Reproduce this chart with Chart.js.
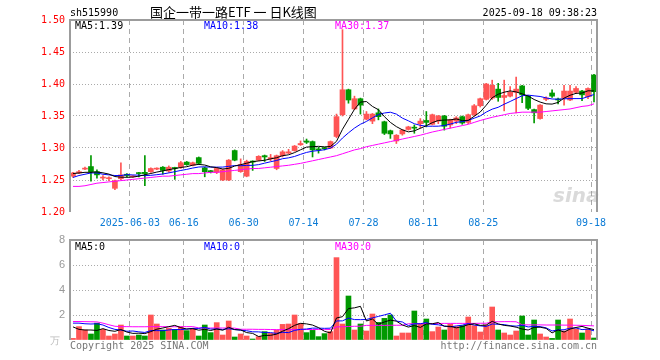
<!DOCTYPE html>
<html>
<head>
<meta charset="utf-8">
<script src="https://cdn.jsdelivr.net/npm/chart.js@4.4.1/dist/chart.umd.min.js"></script>
<style>
  body { margin: 0; background: #fff; }
  #wrap { position: relative; width: 660px; height: 360px; overflow: hidden; font-family: "DejaVu Sans Mono", monospace; font-size: 10px; }
  canvas { position: absolute; left: 0; top: 0; }
  .t { position: absolute; white-space: pre; line-height: 12px; }
</style>
</head>
<body>
<div id="wrap">
  <canvas id="kline" width="660" height="360"></canvas>
  <canvas id="vol" width="660" height="360"></canvas>

  <div class="t" style="left:70px;top:7px;color:#000;">sh515990</div>
  <div class="t" style="left:150px;top:4px;font-family:'Noto Sans CJK SC';font-size:13px;line-height:16px;color:#000;">国企一带一路ETF 一 日K线图</div>
  <div class="t" style="right:63px;top:7px;color:#000;">2025-09-18 09:38:23</div>

  <div class="t" style="left:75px;top:20px;color:#000;">MA5:1.39</div>
  <div class="t" style="left:204px;top:20px;color:#0000ff;">MA10:1.38</div>
  <div class="t" style="left:335px;top:20px;color:#ff00ff;">MA30:1.37</div>

  <div class="t" style="left:553px;top:184px;font-family:'DejaVu Sans';font-weight:bold;font-style:italic;font-size:20px;line-height:22px;color:rgba(150,150,150,0.35);">sina</div>

  <div class="t" style="left:75px;top:241px;color:#000;">MA5:0</div>
  <div class="t" style="left:204px;top:241px;color:#0000ff;">MA10:0</div>
  <div class="t" style="left:335px;top:241px;color:#ff00ff;">MA30:0</div>

  <div class="t" style="left:50px;top:335px;color:#bbb;">万</div>
  <div class="t" style="left:70px;top:340px;color:#777;">Copyright 2025 SINA.COM</div>
  <div class="t" style="right:63px;top:340px;color:#777;">http://finance.sina.com.cn</div>
</div>

<script>
// trading days, 2025-05-19 .. 2025-09-18
const dates = [
  '2025-05-19','2025-05-20','2025-05-21','2025-05-22','2025-05-23','2025-05-26','2025-05-27','2025-05-28','2025-05-29','2025-05-30',
  '2025-06-03','2025-06-04','2025-06-05','2025-06-06','2025-06-09','2025-06-10','2025-06-11','2025-06-12','2025-06-13','2025-06-16',
  '2025-06-17','2025-06-18','2025-06-19','2025-06-20','2025-06-23','2025-06-24','2025-06-25','2025-06-26','2025-06-27','2025-06-30',
  '2025-07-01','2025-07-02','2025-07-03','2025-07-04','2025-07-07','2025-07-08','2025-07-09','2025-07-10','2025-07-11','2025-07-14',
  '2025-07-15','2025-07-16','2025-07-17','2025-07-18','2025-07-21','2025-07-22','2025-07-23','2025-07-24','2025-07-25','2025-07-28',
  '2025-07-29','2025-07-30','2025-07-31','2025-08-01','2025-08-04','2025-08-05','2025-08-06','2025-08-07','2025-08-08','2025-08-11',
  '2025-08-12','2025-08-13','2025-08-14','2025-08-15','2025-08-18','2025-08-19','2025-08-20','2025-08-21','2025-08-22','2025-08-25',
  '2025-08-26','2025-08-27','2025-08-28','2025-08-29','2025-09-01','2025-09-02','2025-09-03','2025-09-04','2025-09-05','2025-09-08',
  '2025-09-09','2025-09-10','2025-09-11','2025-09-12','2025-09-15','2025-09-16','2025-09-17','2025-09-18'
];

const tickDates = ['2025-06-03','2025-06-16','2025-06-30','2025-07-14','2025-07-28','2025-08-11','2025-08-25','2025-09-18'];
const tickLabels = ['2025-06-03','06-16','06-30','07-14','07-28','08-11','08-25','09-18'];

const open = [
  1.256,1.261,1.267,1.271,1.263,1.253,1.252,1.237,1.252,1.259,
  1.255,1.261,1.262,1.263,1.267,1.270,1.264,1.269,1.270,1.278,
  1.273,1.285,1.269,1.264,1.262,1.250,1.250,1.296,1.263,1.256,
  1.279,1.281,1.288,1.283,1.268,1.288,1.292,1.296,1.305,1.311,
  1.310,1.298,1.300,1.300,1.318,1.352,1.391,1.361,1.377,1.345,
  1.342,1.355,1.341,1.327,1.311,1.322,1.329,1.332,1.338,1.343,
  1.337,1.342,1.350,1.336,1.342,1.349,1.340,1.352,1.366,1.376,
  1.378,1.392,1.379,1.381,1.387,1.397,1.381,1.360,1.346,1.376,
  1.386,1.376,1.378,1.375,1.387,1.389,1.380,1.414
];
const high = [
  1.262,1.265,1.270,1.288,1.266,1.257,1.255,1.250,1.277,1.260,
  1.257,1.262,1.288,1.269,1.269,1.271,1.272,1.270,1.279,1.279,
  1.278,1.286,1.270,1.265,1.269,1.267,1.282,1.297,1.283,1.281,
  1.280,1.288,1.289,1.290,1.289,1.296,1.298,1.304,1.311,1.314,
  1.311,1.301,1.301,1.311,1.353,1.485,1.392,1.381,1.378,1.357,
  1.354,1.361,1.342,1.328,1.321,1.329,1.334,1.336,1.346,1.357,
  1.353,1.351,1.351,1.345,1.349,1.350,1.353,1.368,1.378,1.401,
  1.406,1.401,1.406,1.396,1.411,1.398,1.382,1.361,1.368,1.380,
  1.391,1.378,1.398,1.398,1.396,1.390,1.394,1.415
];
const low = [
  1.254,1.260,1.266,1.248,1.253,1.250,1.249,1.235,1.250,1.255,
  1.254,1.255,1.241,1.262,1.266,1.259,1.262,1.251,1.268,1.273,
  1.272,1.274,1.255,1.261,1.260,1.249,1.249,1.280,1.262,1.255,
  1.265,1.280,1.279,1.280,1.266,1.286,1.291,1.295,1.304,1.307,
  1.286,1.292,1.297,1.299,1.316,1.350,1.370,1.360,1.353,1.344,
  1.338,1.344,1.321,1.315,1.307,1.320,1.328,1.323,1.331,1.333,
  1.336,1.338,1.328,1.331,1.338,1.337,1.338,1.350,1.364,1.375,
  1.376,1.373,1.358,1.380,1.355,1.371,1.360,1.339,1.345,1.374,
  1.379,1.369,1.367,1.374,1.385,1.374,1.377,1.372
];
const close = [
  1.261,1.263,1.268,1.263,1.258,1.254,1.253,1.249,1.258,1.257,
  1.256,1.260,1.260,1.268,1.268,1.265,1.270,1.268,1.277,1.274,
  1.277,1.276,1.263,1.263,1.268,1.266,1.281,1.281,1.274,1.279,
  1.278,1.287,1.286,1.285,1.288,1.294,1.294,1.303,1.307,1.309,
  1.297,1.297,1.299,1.310,1.349,1.391,1.375,1.377,1.367,1.353,
  1.353,1.349,1.323,1.322,1.320,1.328,1.333,1.331,1.342,1.340,
  1.352,1.350,1.334,1.344,1.347,1.339,1.352,1.366,1.377,1.400,
  1.398,1.379,1.382,1.387,1.392,1.383,1.362,1.355,1.367,1.378,
  1.381,1.375,1.389,1.389,1.393,1.383,1.393,1.388
];

const ma5 = [
  1.260,1.261,1.262,1.262,1.2626,1.2612,1.2592,1.2554,1.2544,1.2542,
  1.2546,1.2560,1.2582,1.2602,1.2624,1.2642,1.2662,1.2678,1.2696,1.2708,
  1.2732,1.2744,1.2734,1.2706,1.2694,1.2672,1.2682,1.2718,1.2740,1.2762,
  1.2786,1.2798,1.2808,1.2830,1.2848,1.2880,1.2894,1.2928,1.2972,1.3014,
  1.3020,1.3026,1.3018,1.3024,1.3104,1.3292,1.3448,1.3604,1.3718,1.3726,
  1.3650,1.3598,1.3490,1.3400,1.3334,1.3284,1.3252,1.3268,1.3308,1.3348,
  1.3396,1.3430,1.3436,1.3440,1.3454,1.3428,1.3432,1.3496,1.3562,1.3668,
  1.3786,1.3840,1.3872,1.3892,1.3876,1.3846,1.3812,1.3758,1.3718,1.3690,
  1.3686,1.3712,1.3780,1.3824,1.3854,1.3858,1.3894,1.3892
];
const ma10 = [
  1.254,1.257,1.259,1.261,1.261,1.259,1.258,1.257,1.257,1.2584,
  1.2579,1.2576,1.2568,1.2573,1.2583,1.2594,1.2611,1.2630,1.2649,1.2666,
  1.2687,1.2703,1.2706,1.2701,1.2701,1.2702,1.2713,1.2726,1.2723,1.2728,
  1.2729,1.2740,1.2763,1.2785,1.2805,1.2833,1.2846,1.2868,1.2901,1.2931,
  1.2950,1.2960,1.2973,1.2998,1.3059,1.3156,1.3237,1.3311,1.3371,1.3415,
  1.3471,1.3523,1.3547,1.3559,1.3530,1.3467,1.3425,1.3379,1.3354,1.3341,
  1.3340,1.3341,1.3352,1.3374,1.3401,1.3412,1.3431,1.3466,1.3501,1.3561,
  1.3607,1.3636,1.3684,1.3727,1.3772,1.3816,1.3826,1.3815,1.3805,1.3783,
  1.3766,1.3762,1.3769,1.3771,1.3772,1.3772,1.3803,1.3836
];
const ma30 = [
  1.240,1.240,1.241,1.243,1.245,1.246,1.247,1.248,1.249,1.250,
  1.251,1.252,1.253,1.254,1.255,1.256,1.256,1.257,1.258,1.259,
  1.260,1.260,1.261,1.262,1.262,1.263,1.264,1.265,1.266,1.267,
  1.268,1.268,1.269,1.270,1.271,1.272,1.273,1.2745,1.276,1.278,
  1.280,1.282,1.284,1.286,1.288,1.291,1.294,1.297,1.299,1.302,
  1.304,1.306,1.308,1.310,1.312,1.314,1.316,1.318,1.320,1.3225,
  1.325,1.327,1.329,1.331,1.333,1.335,1.337,1.340,1.343,1.3455,
  1.348,1.350,1.352,1.354,1.355,1.356,1.356,1.356,1.356,1.357,
  1.358,1.359,1.360,1.361,1.363,1.365,1.366,1.369
];

// volume, 万手
const volume = [
  0.13,1.07,0.8,0.48,1.35,0.85,0.32,0.48,1.2,0.32,
  0.32,0.4,0.32,2.0,1.28,0.8,0.93,0.85,1.07,0.75,
  0.93,0.32,1.2,0.59,1.39,0.4,1.52,0.24,0.48,0.32,
  0.08,0.27,0.67,0.53,0.8,1.25,1.28,2.0,1.33,0.59,
  0.77,0.27,0.51,0.67,6.59,1.28,3.52,0.8,1.28,0.72,
  2.08,1.41,1.73,2.0,0.32,0.56,0.56,2.32,1.28,1.68,
  0.67,1.04,0.8,1.28,1.07,1.15,1.84,1.15,0.64,1.2,
  2.64,0.8,0.56,0.4,0.72,1.92,0.4,1.6,0.48,0.24,
  0.13,1.6,0.72,1.68,0.88,0.56,0.88,0.16
];
const volMa5 = [
  1.05,0.85,0.8,0.8,0.766,0.91,0.76,0.696,0.84,0.634,
  0.528,0.544,0.512,0.672,0.864,0.96,1.066,1.172,0.986,0.88,
  0.906,0.784,0.854,0.758,0.886,0.78,1.02,0.828,0.806,0.592,
  0.528,0.278,0.364,0.374,0.47,0.704,0.906,1.172,1.332,1.29,
  1.194,0.992,0.694,0.562,1.762,1.864,2.514,2.572,2.694,1.52,
  1.68,1.258,1.444,1.588,1.508,1.204,1.034,1.152,1.008,1.28,
  1.302,1.398,1.094,1.094,0.972,1.068,1.228,1.298,1.17,1.196,
  1.494,1.286,1.168,1.12,1.024,0.88,0.8,1.008,1.024,0.928,
  0.57,0.81,0.634,0.874,1.002,1.088,0.944,0.832
];
const volMa10 = [
  1.35,1.35,1.3,1.28,1.3,1.2,1.0,0.85,0.8,0.70,
  0.719,0.652,0.604,0.756,0.749,0.744,0.805,0.842,0.829,0.872,
  0.933,0.925,1.013,0.872,0.883,0.843,0.902,0.841,0.782,0.739,
  0.654,0.649,0.596,0.59,0.531,0.616,0.592,0.768,0.853,0.88,
  0.949,0.949,0.933,0.947,1.526,1.529,1.753,1.633,1.628,1.641,
  1.772,1.886,2.008,2.141,1.514,1.442,1.146,1.298,1.298,1.394,
  1.253,1.216,1.123,1.051,1.126,1.185,1.313,1.196,1.132,1.084,
  1.281,1.257,1.233,1.145,1.11,1.187,1.043,1.088,1.072,0.976,
  0.725,0.805,0.821,0.949,0.965,0.829,0.877,0.733
];
const volMa30 = [
  1.48,1.48,1.47,1.46,1.45,1.35,1.22,1.1,1.07,1.07,
  1.06,1.06,1.06,1.07,1.07,1.07,1.06,1.06,1.06,1.07,
  1.07,0.97,0.96,0.96,0.96,0.96,0.96,0.95,0.86,0.86,
  0.86,0.85,0.85,0.84,0.83,0.83,0.83,0.84,0.84,0.84,
  0.84,0.84,0.83,0.84,1.05,1.06,1.08,1.1,1.1,1.17,
  1.17,1.17,1.17,1.18,1.18,1.18,1.3,1.3,1.3,1.31,
  1.31,1.32,1.33,1.33,1.33,1.33,1.33,1.33,1.34,1.34,
  1.45,1.46,1.47,1.47,1.46,1.22,1.21,1.21,1.21,1.2,
  1.2,1.2,1.19,1.19,1.18,1.17,1.15,1.13
];

const upColor = '#ff5555';
const downColor = '#009900';
const barColors = close.map((c, i) => c >= open[i] ? upColor : downColor);
const mono = { family: 'DejaVu Sans Mono', size: 10 };

// left, top and right border of the plot box
const frame = {
  id: 'frame',
  afterDraw(chart) {
    const { ctx, chartArea: a } = chart;
    ctx.save();
    ctx.strokeStyle = '#9c9c9c';
    ctx.lineWidth = 2;
    ctx.beginPath();
    ctx.moveTo(a.left, a.bottom);
    ctx.lineTo(a.left, a.top);
    ctx.lineTo(a.right, a.top);
    ctx.lineTo(a.right, a.bottom);
    ctx.stroke();
    ctx.restore();
  }
};

function xAxis(showLabels) {
  return {
    type: 'category',
    offset: true,
    grid: {
      offset: true,
      drawTicks: false,
      color: ctx => tickDates.includes(dates[ctx.index]) ? '#aaaaaa' : 'rgba(0,0,0,0)'
    },
    border: { display: false, dash: [5, 4] },
    ticks: {
      display: showLabels,
      autoSkip: false,
      maxRotation: 0,
      padding: 5,
      labelOffset: -3,
      color: '#0b7bd6',
      font: mono,
      callback: (v, i) => {
        const k = tickDates.indexOf(dates[i]);
        return k < 0 ? '' : tickLabels[k];
      }
    },
    afterFit: s => { s.height = 20; }
  };
}

function maLine(data, color) {
  return { type: 'line', data: data, borderColor: color, borderWidth: 1, pointRadius: 0, tension: 0, order: 0 };
}

new Chart(document.getElementById('kline'), {
  type: 'bar',
  data: {
    labels: dates,
    datasets: [
      maLine(ma5, '#000000'),
      maLine(ma10, '#0000ff'),
      maLine(ma30, '#ff00ff'),
      {
        data: open.map((o, i) => [o, close[i]]),
        backgroundColor: barColors,
        barThickness: 5,
        minBarLength: 1,
        grouped: false,
        order: 1
      },
      {
        data: low.map((l, i) => [l, high[i]]),
        backgroundColor: barColors,
        barThickness: 1,
        grouped: false,
        order: 2
      }
    ]
  },
  options: {
    responsive: false,
    animation: false,
    events: [],
    layout: { padding: { left: 0, right: 63, top: 20, bottom: 128 } },
    plugins: { legend: { display: false }, tooltip: { enabled: false } },
    scales: {
      x: xAxis(true),
      y: {
        min: 1.2,
        max: 1.5,
        ticks: { stepSize: 0.05, color: '#ff0000', padding: 5, font: mono, callback: v => v.toFixed(2) },
        grid: {
          drawTicks: false,
          color: ctx => (ctx.tick && ctx.tick.value > 1.201 && ctx.tick.value < 1.499) ? '#aaaaaa' : 'rgba(0,0,0,0)'
        },
        border: { display: false, dash: [1, 2] },
        afterFit: s => { s.width = 70; }
      }
    }
  },
  plugins: [frame]
});

new Chart(document.getElementById('vol'), {
  type: 'bar',
  data: {
    labels: dates,
    datasets: [
      maLine(volMa5, '#000000'),
      maLine(volMa10, '#0000ff'),
      maLine(volMa30, '#ff00ff'),
      {
        data: volume,
        backgroundColor: barColors,
        barThickness: 5,
        grouped: false,
        order: 1
      }
    ]
  },
  options: {
    responsive: false,
    animation: false,
    events: [],
    layout: { padding: { left: 0, right: 63, top: 240, bottom: 0 } },
    plugins: { legend: { display: false }, tooltip: { enabled: false } },
    scales: {
      x: xAxis(false),
      y: {
        min: 0,
        max: 8,
        ticks: {
          stepSize: 2, color: '#999999', padding: 5,
          font: { family: 'Liberation Sans', size: 11 },
          callback: v => v === 0 ? '' : v
        },
        grid: {
          drawTicks: false,
          color: ctx => (ctx.tick && ctx.tick.value > 0 && ctx.tick.value < 8) ? '#aaaaaa' : 'rgba(0,0,0,0)'
        },
        border: { display: false, dash: [1, 2] },
        afterFit: s => { s.width = 70; }
      }
    }
  },
  plugins: [frame]
});
</script>
</body>
</html>
